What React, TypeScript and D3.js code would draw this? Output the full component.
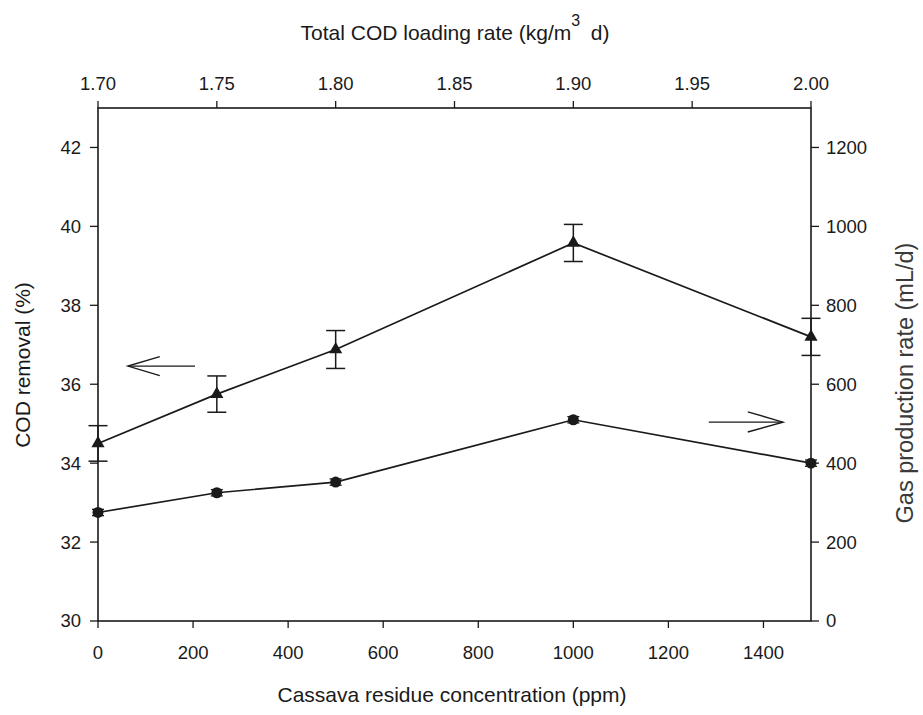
import React from "react";
import * as d3 from "d3";

const concentrations = [0, 250, 500, 1000, 1500];
const codRemoval = [34.5, 35.75, 36.88, 39.58, 37.2];
const codErr = [0.45, 0.46, 0.48, 0.47, 0.47];
const gasRate = [275, 325, 352, 510, 400];
const gasErr = [8, 8, 8, 8, 8];

const leftTicks = [30, 32, 34, 36, 38, 40, 42];
const rightTicks = [0, 200, 400, 600, 800, 1000, 1200];
const bottomTicks = [0, 200, 400, 600, 800, 1000, 1200, 1400];
const topTicks = [1.7, 1.75, 1.8, 1.85, 1.9, 1.95, 2.0];

const W = 923;
const H = 715;
const L = 98;
const R = 811;
const T = 108;
const B = 621;
const FONT = "'Liberation Sans', Arial, sans-serif";
const INK = "#1a1a1a";

export default function App() {
  const x = d3.scaleLinear().domain([0, 1500]).range([L, R]);
  const xTop = d3.scaleLinear().domain([1.7, 2.0]).range([L, R]);
  const yL = d3.scaleLinear().domain([30, 43]).range([B, T]);
  const yR = d3.scaleLinear().domain([0, 1300]).range([B, T]);

  const codPts = concentrations.map((c, i) => [x(c), yL(codRemoval[i])] as [number, number]);
  const gasPts = concentrations.map((c, i) => [x(c), yR(gasRate[i])] as [number, number]);
  const line = d3.line();
  const tri = d3.symbol(d3.symbolTriangle, 75)() as string;
  const cap = 9.5;
  const gcap = 6;
  const TF = 18.5;

  return (
    <svg width={W} height={H} style={{ position: "absolute", left: 0, top: 0, background: "#fff" }} fontFamily={FONT}>
      <rect x={0} y={0} width={W} height={H} fill="#fff" />
      {/* frame */}
      <rect x={L} y={T} width={R - L} height={B - T} fill="none" stroke={INK} strokeWidth={1.6} />

      {/* left axis */}
      {leftTicks.map((t) => (
        <g key={"l" + t}>
          <line x1={L - 8} x2={L} y1={yL(t)} y2={yL(t)} stroke={INK} strokeWidth={1.3} />
          <text x={L - 17} y={yL(t)} dy="0.35em" textAnchor="end" fontSize={TF} fill={INK}>{t}</text>
        </g>
      ))}
      {/* right axis */}
      {rightTicks.map((t) => (
        <g key={"r" + t}>
          <line x1={R} x2={R + 8} y1={yR(t)} y2={yR(t)} stroke={INK} strokeWidth={1.3} />
          <text x={R + 15} y={yR(t)} dy="0.35em" textAnchor="start" fontSize={TF} fill={INK}>{t}</text>
        </g>
      ))}
      {/* bottom axis */}
      {bottomTicks.map((t) => (
        <g key={"b" + t}>
          <line x1={x(t)} x2={x(t)} y1={B} y2={B + 7} stroke={INK} strokeWidth={1.3} />
          <text x={x(t)} y={B + 32} dy="0.35em" textAnchor="middle" fontSize={TF} fill={INK}>{t}</text>
        </g>
      ))}
      {/* top axis */}
      {topTicks.map((t) => (
        <g key={"t" + t}>
          <line x1={xTop(t)} x2={xTop(t)} y1={T} y2={T - 7} stroke={INK} strokeWidth={1.3} />
          <text x={xTop(t)} y={T - 24} dy="0.35em" textAnchor="middle" fontSize={TF} fill={INK}>{t.toFixed(2)}</text>
        </g>
      ))}

      {/* axis titles */}
      <text x={452} y={695} dy="0.35em" textAnchor="middle" fontSize={21} fill={INK}>Cassava residue concentration (ppm)</text>
      <text x={455} y={40} textAnchor="middle" fontSize={21} fill={INK}>
        Total COD loading rate (kg/m
        <tspan dy={-14} fontSize={16}>3</tspan>
        <tspan dy={14}>{"\u2002"}d)</tspan>
      </text>
      <text transform={`translate(23,365) rotate(-90)`} dy="0.35em" textAnchor="middle" fontSize={21} fill={INK}>COD removal (%)</text>
      <text transform={`translate(905,383) rotate(-90)`} dy="0.35em" textAnchor="middle" fontSize={23.5} fill="#3a3a3a">Gas production rate (mL/d)</text>

      {/* COD removal series */}
      <path d={line(codPts) as string} fill="none" stroke={INK} strokeWidth={1.7} />
      {concentrations.map((c, i) => (
        <g key={"ce" + i} stroke={INK} strokeWidth={1.5}>
          <line x1={x(c)} x2={x(c)} y1={yL(codRemoval[i] - codErr[i])} y2={yL(codRemoval[i] + codErr[i])} />
          <line x1={x(c) - cap} x2={x(c) + cap} y1={yL(codRemoval[i] - codErr[i])} y2={yL(codRemoval[i] - codErr[i])} />
          <line x1={x(c) - cap} x2={x(c) + cap} y1={yL(codRemoval[i] + codErr[i])} y2={yL(codRemoval[i] + codErr[i])} />
        </g>
      ))}
      {codPts.map((p, i) => (
        <path key={"ct" + i} d={tri} transform={`translate(${p[0]},${p[1]})`} fill={INK} />
      ))}

      {/* Gas production series */}
      <path d={line(gasPts) as string} fill="none" stroke={INK} strokeWidth={1.7} />
      {concentrations.map((c, i) => (
        <g key={"ge" + i} stroke={INK} strokeWidth={1.3}>
          <line x1={x(c)} x2={x(c)} y1={yR(gasRate[i] - gasErr[i])} y2={yR(gasRate[i] + gasErr[i])} />
          <line x1={x(c) - gcap} x2={x(c) + gcap} y1={yR(gasRate[i] - gasErr[i])} y2={yR(gasRate[i] - gasErr[i])} />
          <line x1={x(c) - gcap} x2={x(c) + gcap} y1={yR(gasRate[i] + gasErr[i])} y2={yR(gasRate[i] + gasErr[i])} />
        </g>
      ))}
      {gasPts.map((p, i) => (
        <circle key={"gc" + i} cx={p[0]} cy={p[1]} r={5.5} fill={INK} />
      ))}

      {/* direction arrows */}
      <g fill="none" stroke={INK} strokeWidth={1.4}>
        <line x1={x(204)} x2={x(63)} y1={yL(36.46)} y2={yL(36.46)} />
        <polyline points={`${x(130)},${yL(36.7)} ${x(63)},${yL(36.46)} ${x(130)},${yL(36.22)}`} />
        <line x1={x(1285)} x2={x(1441)} y1={yR(504)} y2={yR(504)} />
        <polyline points={`${x(1367)},${yR(530)} ${x(1441)},${yR(504)} ${x(1367)},${yR(479)}`} />
      </g>
    </svg>
  );
}
